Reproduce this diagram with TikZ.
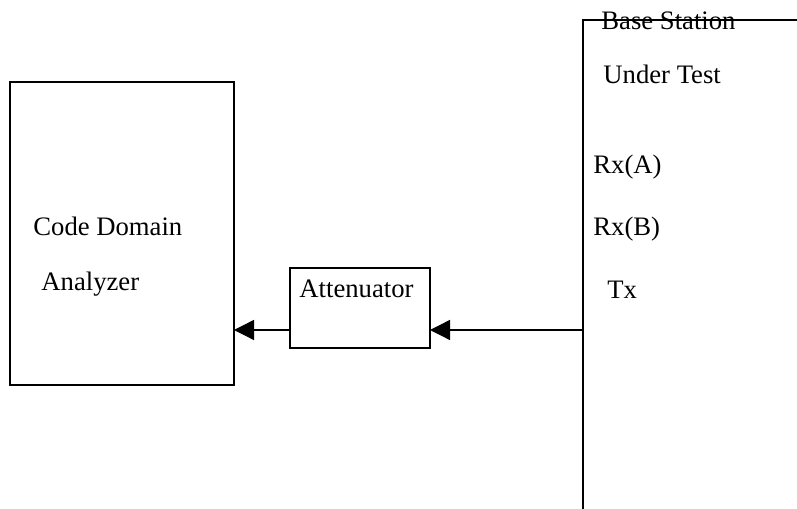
\documentclass[tikz,border=0pt]{standalone}
\usepackage{fontspec}
\setmainfont{Liberation Serif}
\usetikzlibrary{arrows.meta}
\begin{document}
\begin{tikzpicture}[x=0.45pt,y=-0.45pt,
  box/.style={draw, line width=0.6pt, inner sep=0pt, outer sep=0pt, rectangle},
  lbl/.style={anchor=base west, inner sep=0pt, font=\fontsize{12}{14}\selectfont},
  arr/.style={-{Triangle[length=9pt,width=9pt]}, line width=0.6pt}]
\useasboundingbox (0,0) rectangle (797,509);
% boxes
\node[box, minimum width=100.8pt, minimum height=136.35pt] (cda) at (122,233.5) {};
\node[box, minimum width=63pt, minimum height=36pt] (att) at (360,308) {};
% base station outline
\draw[line width=0.9pt] (797,20) -- (583,20) -- (583,509);
\coordinate (bsTx) at (583,330);
% labels
\node[lbl] (t1) at (601,30) {Base Station};
\node[lbl] (t2) at (603,84) {Under Test};
\node[lbl] (t3) at (593,174) {Rx(A)};
\node[lbl] (t4) at (593,236) {Rx(B)};
\node[lbl] (t5) at (607,299) {Tx};
\node[lbl] (t6) at (33,236) {Code Domain};
\node[lbl] (t7) at (41,291) {Analyzer};
\node[lbl] (t8) at (299,298) {Attenuator};
% connectors
\draw[arr] (bsTx) -- (bsTx -| att.east);
\draw[arr] (att.west |- bsTx) -- (cda.east |- bsTx);
\end{tikzpicture}
\end{document}
